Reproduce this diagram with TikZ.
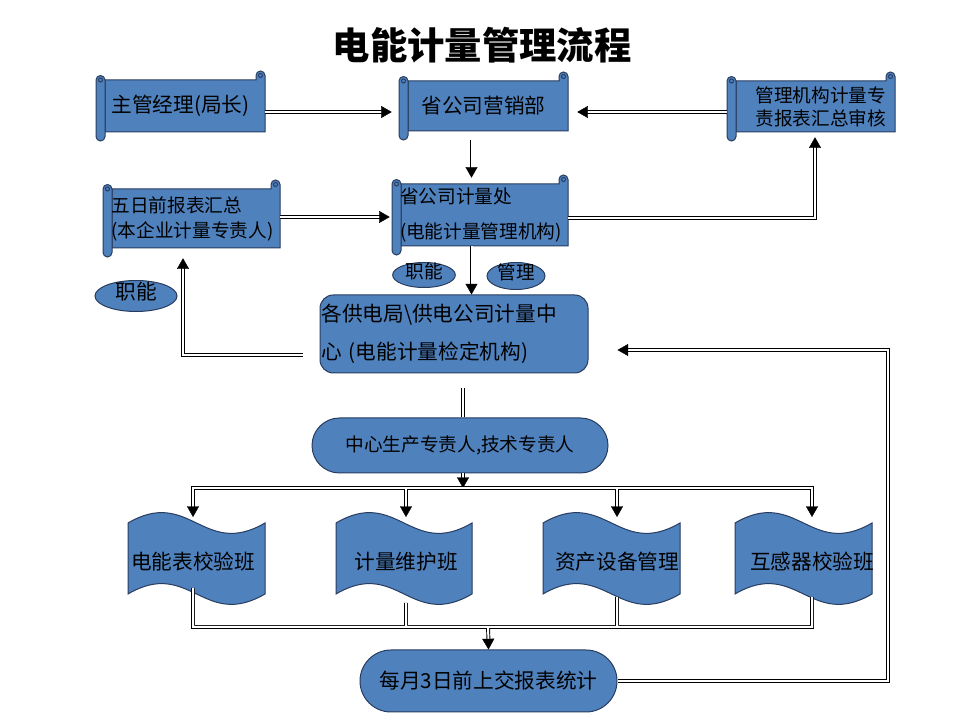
\documentclass[tikz,border=0pt]{standalone}
\usepackage{fontspec}
\newfontfamily\cjk{Noto Sans CJK SC}
\usetikzlibrary{arrows.meta,calc,shapes.geometric,shapes.misc}

\definecolor{boxblue}{RGB}{79,129,189}
\definecolor{boxline}{RGB}{40,60,95}

\newcommand{\fbig}{\cjk\fontsize{15.5}{19}\selectfont}
\newcommand{\fsmall}{\cjk\fontsize{14}{17.25}\selectfont}

\tikzset{
  shapefill/.style={fill=boxblue, draw=boxline, line width=.75pt},
  dline/.style={double, line width=.7pt, double distance=1.5pt},
  tipline/.style={draw=white, line width=.3pt, -{Triangle[length=8pt,width=9pt,color=black,fill=black]}},
  oval/.style={ellipse, shapefill, inner sep=0pt, text height=8pt, text depth=2pt, font=\fsmall},
  stadium/.style={rounded rectangle, shapefill, inner sep=0pt, font=\fsmall},
}

% double connector with a solid tip
\newcommand{\dlink}[1]{\draw[dline, shorten >=6pt] #1; \draw[tipline] #1;}

% scroll: [node options]{name}{x0}{y0}{x1}{y1}{text}
\newcommand{\scrollbox}[7][]{%
  \filldraw[shapefill] ({#3+9},{#4+9}) -- (#5,{#4+9}) -- (#5,{#6-4.5})
    arc[start angle=0, end angle=180, radius=4.5] -- ({#5-9},{#6-9}) -- ({#3+9},{#6-9}) -- cycle;
  \draw[boxline, line width=.75pt] ({#5-4.5},{#6-4.5}) circle[radius=2];
  \filldraw[shapefill] (#3,{#6-9}) -- (#3,{#4+4.5})
    arc[start angle=180, end angle=360, radius=4.5] -- ({#3+9},{#6-9})
    arc[start angle=0, end angle=180, radius=4.5] -- cycle;
  \draw[boxline, line width=.75pt] ({#3+4.5},{#6-9}) circle[radius=2];
  \node[inner sep=0pt, font=\fbig, minimum width={(#5-#3)*0.75pt}, minimum height={(#6-#4-18)*0.75pt}, #1]
    (#2) at ({(#3+#5)/2},{(#4+#6)/2}) {#7};
}

% wave: {name}{x0}{x1}{text x}{text}
\newcommand{\wavebox}[5]{%
  \filldraw[shapefill] (#2,197) .. controls ({#2+0.45*(#3-#2)},233) and ({#2+0.55*(#3-#2)},161) .. (#3,197)
    -- (#3,126) .. controls ({#2+0.55*(#3-#2)},90) and ({#2+0.45*(#3-#2)},162) .. (#2,126) -- cycle;
  \node[font=\fbig] (#1) at (#4,158) {#5};
}

\begin{document}
\begin{tikzpicture}[x=0.75pt, y=0.75pt]
\useasboundingbox (0,0) rectangle (960,720);

%title:
\node[font=\cjk\bfseries\fontsize{28}{32}\selectfont] (title) at (482,675) {电能计量管理流程};

%scrolls:
\scrollbox{man}{96}{579}{265}{649}{主管经理(局长)}
\scrollbox{mkt}{399}{580}{568}{648}{省公司营销部}
\scrollbox[font=\fsmall, text width=112.5pt, align=right]{reg}{727}{579}{895}{648}{管理机构计量专\\责报表汇总审核}
\scrollbox[font=\cjk\fontsize{14}{18.75}\selectfont, text width=120pt, align=left]{rep}{103}{463}{280}{540}{五日前报表汇总\\(本企业计量专责人)}
\scrollbox[font=\cjk\fontsize{14}{26}\selectfont, text width=120pt, align=left]{prov}{392}{465}{568}{545}{省公司计量处\\(电能计量管理机构)}

%ovals:
\node[oval, minimum width=47pt, minimum height=18.75pt] (duty1) at (424,445) {职能};
\node[oval, minimum width=43.5pt, minimum height=20.25pt] (mgmt) at (516,444) {管理};
\node[oval, minimum width=61.5pt, minimum height=23.25pt, font=\fbig] (duty2) at (136,424) {职能};

%centre and stadiums:
\node[shapefill, rounded corners=10pt, minimum height=58.5pt, text width=199pt, align=left, inner sep=1pt,
  font=\cjk\fontsize{15.5}{28.5}\selectfont] (ctr) at (454,386) {各供电局\textbackslash 供电公司计量中\\心 (电能计量检定机构)};
\node[stadium, minimum width=222pt, minimum height=41.25pt] (staff) at (460,274.5) {中心生产专责人,技术专责人};
\node[stadium, minimum width=192.75pt, minimum height=46.5pt, font=\fbig] (sum) at (488.5,39) {每月3日前上交报表统计};

%waves:
\wavebox{w1}{128}{265}{193}{电能表校验班}
\wavebox{w2}{336}{472}{406}{计量维护班}
\wavebox{w3}{543}{680}{617}{资产设备管理}
\wavebox{w4}{735}{872}{812}{互感器校验班}

%top part:
\dlink{($(man.east)+(0,-6)$) -- ($(mkt.west)+(-7,-6)$)}
\dlink{($(reg.west)+(0,-5.5)$) -- ($(mkt.east)+(9,-6)$)}
\dlink{($(mkt.south)+(-12,-9)$) -- ($(prov.north)+(-8.5,6)$)}
\dlink{($(rep.east)+(0,1.5)$) -- ($(prov.west)+(-2,-2)$)}
\dlink{($(prov.east)+(0,-3)$) -| ($(reg.south)+(4,-5)$)}
\dlink{($(prov.south)+(-8.5,0)$) -- ($(ctr.north)+(17.5,0)$)}
\dlink{($(ctr.west)+(-17,-21)$) -| ($(rep.south)+(-8.5,-10)$)}
\draw[dline] ($(ctr.south)+(9,-15)$) -- ($(staff.north)+(3,0)$);

%buses:
\coordinate (busT) at (463,232);
\coordinate (busB) at (488,93);
\coordinate (back) at (888,0);
\dlink{($(staff.south)+(3,0)$) -- (busT)}
\draw[dline] ($(w1)+(0,51)$) -- (w1 |- busT) -- (w4 |- busT) -- ($(w4)+(0,51)$)
  \foreach \w in {w2,w3} {(\w |- busT) -- ($(\w)+(0,51)$)};
\foreach \w in {w1,w2,w3,w4} \draw[tipline] (\w |- busT) -- ($(\w)+(0,45)$);
\draw[dline] ($(w1)+(0,-26)$) -- (w1 |- busB) -- (w4 |- busB) -- ($(w4)+(0,-35)$)
  \foreach \w/\d in {w2/-41,w3/-35} {($(\w)+(0,\d)$) -- (\w |- busB)}
  (busB) -- ($(sum.north)+(0,8)$);
\draw[tipline] (busB) -- (sum.north);

%report back:
\dlink{(sum.east) -- (sum.east -| back) |- ($(ctr.east)+(29,-16)$)}
\end{tikzpicture}
\end{document}
